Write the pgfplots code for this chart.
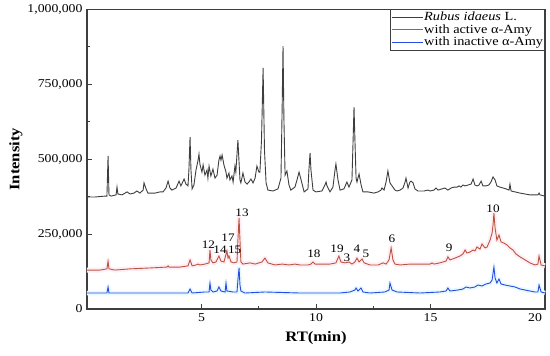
\documentclass[border=0pt]{standalone}
\usepackage{fontspec}
\setmainfont{Liberation Serif}[FakeStretch=1.15]
\usepackage{pgfplots}
\usepackage{pgfplotstable}
\pgfplotsset{compat=1.18}
\definecolor{cblk}{RGB}{62,62,62}
\definecolor{cred}{RGB}{185,85,62}
\definecolor{cblu}{RGB}{40,75,225}
\definecolor{hpink}{RGB}{255,238,245}
\definecolor{hcyan}{RGB}{232,250,255}
\pgfplotstableread{
x y
0 130000
0.57 130000
0.87 134000
0.92 160000
0.96 134000
1.22 130000
1.88 134000
2.75 137000
3.49 140000
3.54 144000
3.58 140000
4.06 140000
4.41 144000
4.50 164000
4.59 144000
4.76 147000
4.85 150000
4.93 147000
5.15 150000
5.33 154000
5.37 197000
5.41 164000
5.50 154000
5.63 157000
5.76 177000
5.85 160000
5.98 157000
6.11 194000
6.16 170000
6.20 177000
6.29 157000
6.42 154000
6.55 157000
6.59 230000
6.64 304000
6.68 230000
6.72 157000
6.81 150000
7.12 154000
7.34 150000
7.64 157000
7.77 170000
7.90 154000
8.21 147000
8.52 150000
8.82 147000
9.08 150000
9.30 147000
9.65 147000
9.78 150000
9.87 157000
9.96 150000
10.26 150000
10.61 150000
10.87 154000
11.00 177000
11.09 157000
11.27 154000
11.44 157000
11.57 150000
11.70 157000
11.79 170000
11.88 157000
12.01 167000
12.10 154000
12.36 147000
12.71 147000
12.93 154000
13.06 150000
13.19 164000
13.28 204000
13.36 164000
13.45 150000
13.67 147000
14.10 150000
14.54 150000
14.98 150000
15.07 154000
15.15 150000
15.41 154000
15.68 160000
15.76 174000
15.85 164000
16.07 170000
16.29 177000
16.42 184000
16.51 197000
16.59 187000
16.72 190000
16.86 197000
16.94 194000
17.03 207000
17.16 200000
17.25 217000
17.38 204000
17.47 207000
17.60 230000
17.69 254000
17.73 280000
17.77 320000
17.82 270000
17.90 230000
17.99 247000
18.08 224000
18.21 220000
18.34 214000
18.47 204000
18.60 197000
18.73 184000
18.91 174000
19.13 164000
19.34 154000
19.56 147000
19.69 150000
19.74 177000
19.83 147000
20.00 144000
}\redtab
\pgfplotstableread{
x y
0 53400
0.79 53400
0.87 53400
0.92 73500
0.96 53400
1.22 53400
2.75 53400
4.41 53400
4.50 66800
4.59 53400
5.15 56800
5.33 56800
5.37 86800
5.41 63400
5.50 56800
5.68 60100
5.76 73500
5.85 60100
6.03 56800
6.07 86800
6.11 60100
6.38 56800
6.55 56800
6.59 96800
6.64 137000
6.68 80100
6.72 60100
6.90 53400
7.77 56800
9.30 53400
11.05 53400
11.48 56800
11.70 63400
11.75 70100
11.83 60100
11.97 70100
12.05 56800
12.36 53400
13.01 56800
13.19 63400
13.23 86800
13.32 63400
13.54 56800
14.54 53400
15.41 56800
15.68 60100
15.76 70100
15.85 60100
16.20 63400
16.42 66800
16.55 73500
16.72 70100
16.94 73500
17.07 80100
17.25 76800
17.42 83500
17.60 86800
17.69 96800
17.77 140000
17.82 103500
17.90 86800
17.99 100000
18.08 83500
18.25 80100
18.47 76800
18.69 73500
18.91 66800
19.13 63400
19.34 60100
19.56 56800
19.69 56800
19.74 80100
19.83 56800
20.00 53400
}\bluetab
\begin{document}
\begin{tikzpicture}
\begin{axis}[
  scale only axis, width=458bp, height=299.5bp,
  xmin=0, xmax=20, ymin=0, ymax=1000000,
  xtick={5,10,15}, ytick={0,250000,500000,750000,1000000},
  extra x ticks={20},
  extra x tick style={xticklabel style={anchor=north east, xshift=0.5bp}},
  minor x tick num=1, minor y tick num=1,
  tick align=inside, tick pos=left,
  major tick length=5bp, minor tick length=3.5bp,
  scaled y ticks=false,
  axis line style={line width=1.1bp, cblk},
  every tick/.style={line width=1bp, cblk},
  /pgf/number format/assume math mode=true,
  ticklabel style={font=\fontsize{12}{14}\selectfont},
  yticklabel style={/pgf/number format/fixed, /pgf/number format/1000 sep={,}, xshift=-1bp},
  xticklabel style={yshift=-1bp},
  xlabel={RT(min)}, ylabel={Intensity},
  xlabel style={at={(axis description cs:0.5,-0.097)}, anchor=center, font=\bfseries\fontsize{14.5}{16}\selectfont},
  ylabel style={at={(axis description cs:-0.155,0.5)}, anchor=center, font=\bfseries\fontsize{14.5}{16}\selectfont},
  legend style={at={(rel axis cs:1,1)}, anchor=north east, draw=cblk, line width=0.6bp,
    font=\fontsize{12.5}{13}\selectfont, inner xsep=1bp, inner ysep=1bp,
    nodes={inner sep=0.6bp, text height=9bp, text depth=2.5bp}},
  legend cell align=left,
  legend image code/.code={\draw[#1] (0bp,0bp) -- (31bp,0bp);},
  clip=false,
]
\coordinate (bl) at (rel axis cs:0,0);
\coordinate (tr) at (rel axis cs:1,1);
\addplot[forget plot, hpink, line width=5bp, line join=round] table {\redtab};
\addplot[forget plot, hcyan, line width=4.5bp, line join=round] table {\bluetab};
\addplot[cblk, line width=0.9bp] table {
x y
0 374000
0.35 374000
0.79 377000
0.87 377000
0.92 511000
0.96 381000
1.05 377000
1.27 381000
1.31 407000
1.35 384000
1.53 381000
1.75 391000
1.88 384000
2.05 387000
2.18 394000
2.31 387000
2.45 397000
2.49 421000
2.58 401000
2.66 387000
2.97 387000
3.19 391000
3.32 391000
3.45 404000
3.54 427000
3.62 404000
3.71 397000
3.89 404000
4.02 427000
4.10 411000
4.24 434000
4.32 417000
4.41 411000
4.45 464000
4.50 574000
4.54 464000
4.59 401000
4.67 414000
4.76 464000
4.85 497000
4.89 517000
4.93 484000
5.02 457000
5.07 481000
5.15 447000
5.24 464000
5.28 437000
5.33 477000
5.41 444000
5.50 467000
5.59 437000
5.68 447000
5.76 497000
5.81 511000
5.85 497000
5.90 514000
5.98 481000
6.07 457000
6.11 437000
6.20 454000
6.24 431000
6.33 444000
6.38 424000
6.46 477000
6.50 457000
6.59 564000
6.68 431000
6.72 421000
6.81 454000
6.90 424000
6.99 417000
7.07 424000
7.16 434000
7.25 421000
7.34 437000
7.42 477000
7.51 457000
7.55 457000
7.62 564000
7.69 805000
7.75 531000
7.82 421000
7.90 397000
8.12 394000
8.34 401000
8.47 437000
8.52 664000
8.56 878000
8.60 631000
8.65 447000
8.73 461000
8.82 414000
8.90 397000
9.08 407000
9.17 431000
9.26 457000
9.35 431000
9.48 391000
9.65 401000
9.69 464000
9.74 521000
9.78 464000
9.87 397000
10.00 391000
10.26 394000
10.39 414000
10.44 424000
10.48 411000
10.61 391000
10.74 407000
10.83 464000
10.87 484000
10.96 431000
11.05 397000
11.22 401000
11.35 424000
11.44 407000
11.57 431000
11.62 564000
11.66 674000
11.70 564000
11.75 437000
11.79 424000
11.88 451000
11.97 414000
12.05 391000
12.27 391000
12.53 387000
12.71 391000
12.84 397000
12.88 404000
12.97 397000
13.06 424000
13.14 461000
13.23 421000
13.36 407000
13.45 397000
13.54 394000
13.67 397000
13.80 404000
13.89 424000
13.93 437000
14.02 404000
14.10 424000
14.15 427000
14.24 421000
14.32 401000
14.45 394000
14.72 394000
14.89 397000
14.98 394000
15.15 397000
15.24 404000
15.33 397000
15.50 401000
15.63 404000
15.76 397000
15.90 404000
16.03 407000
16.16 407000
16.25 411000
16.33 407000
16.42 414000
16.51 411000
16.64 414000
16.77 417000
16.86 434000
16.94 414000
17.03 411000
17.12 414000
17.21 427000
17.29 411000
17.42 411000
17.55 414000
17.64 424000
17.73 441000
17.82 431000
17.90 411000
18.03 407000
18.17 404000
18.30 401000
18.43 397000
18.47 417000
18.52 394000
18.69 391000
18.91 387000
19.13 384000
19.34 381000
19.56 381000
19.69 381000
19.74 387000
19.78 381000
20.00 377000
};
\addlegendentry{\textit{Rubus idaeus} L.}
\addplot[cred, line width=0.9bp] table {\redtab};
\addlegendentry{with active α-Amy}
\addplot[cblu, line width=0.9bp] table {\bluetab};
\addlegendentry{with inactive α-Amy}
\begin{scope}[every node/.style={font=\fontsize{11.5}{13}\selectfont, inner sep=0pt}]
\node at (axis cs:6.77,320500) {13};
\node at (axis cs:5.30,213700) {12};
\node at (axis cs:5.81,197000) {14};
\node at (axis cs:6.16,237100) {17};
\node at (axis cs:6.45,197000) {15};
\node at (axis cs:9.91,183600) {18};
\node at (axis cs:10.92,200300) {19};
\node at (axis cs:11.35,170300) {3};
\node at (axis cs:11.79,200300) {4};
\node at (axis cs:12.18,183600) {5};
\node at (axis cs:13.32,233700) {6};
\node at (axis cs:15.81,203700) {9};
\node at (axis cs:17.73,333900) {10};
\end{scope}
\end{axis}
\pgfresetboundingbox
\path[use as bounding box] ([shift={(-87bp,-47bp)}]bl) rectangle ([shift={(5bp,9.5bp)}]tr);
\end{tikzpicture}
\end{document}
